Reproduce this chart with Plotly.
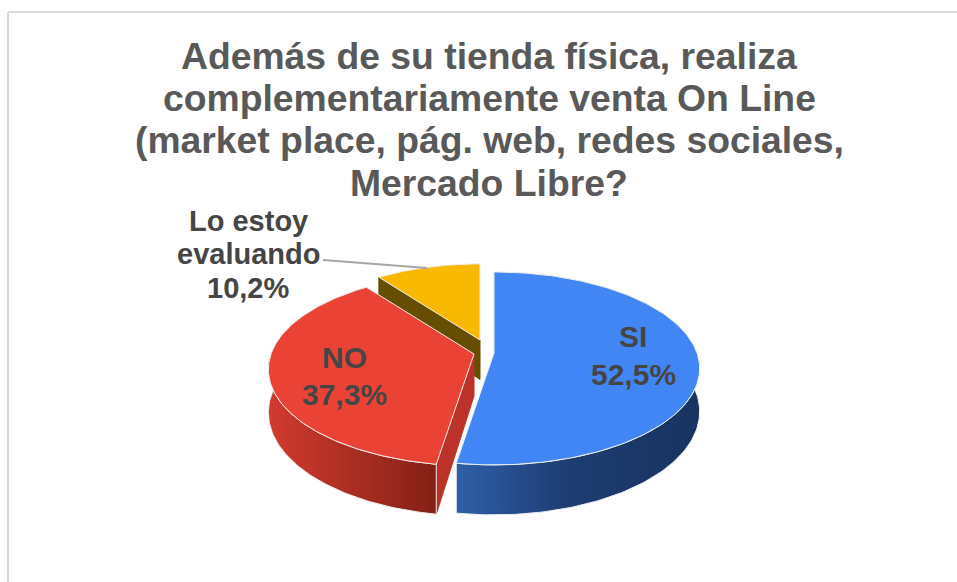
import numpy as np
import plotly.graph_objects as go

categories = ["SI", "NO", "Lo estoy<br>evaluando"]
shares = [52.5, 37.3, 10.2]
title_lines = ["Además de su tienda física, realiza",
               "complementariamente venta On Line",
               "(market place, pág. web, redes sociales,",
               "Mercado Libre?"]
title_y = [56, 98, 140, 183]

top_colors = ["#4285F4", "#EA4335", "#F8B900"]
side_scales = [[[0, "#2F5FA8"], [0.45, "#1D3D73"], [1, "#18335F"]],
               [[0, "#D23B2F"], [1, "#842015"]],
               [[0, "#664D00"], [1, "#664D00"]]]
cut_colors = ["#1D3D73", "#BD3228", "#664D00"]
edge = "#EFEFEF"
text_color = "#454545"

# Projection of the tilted pie onto the page
apex = [(494, 353), (474, 354), (480, 340)]
scale = [1.0, 1.0, 0.94]
RX, RY, PERSP, DEPTH = 203, 94, 0.16, 42


def project(i, theta, r=1.0, drop=0.0):
    u, v = r * np.sin(theta), r * np.cos(theta)
    w = 1 + PERSP * v
    s = scale[i]
    return (apex[i][0] + s * RX * u / w,
            apex[i][1] - s * RY * v / w + s * drop / w)


total = sum(shares)
ends = np.cumsum(shares) / total * 2 * np.pi
starts = np.concatenate([[0], ends[:-1]])


def poly(x, y, **kw):
    return go.Scatter(x=list(x), y=list(y), mode="lines", fill="toself",
                      hoverinfo="skip", showlegend=False, **kw)


def wedge_top(i):
    t = np.linspace(starts[i], ends[i], 160)
    x, y = project(i, t)
    return poly(np.r_[apex[i][0], x, apex[i][0]], np.r_[apex[i][1], y, apex[i][1]],
                fillcolor=top_colors[i], line=dict(color=edge, width=1))


def wedge_outer(i):
    t = np.linspace(starts[i], ends[i], 160)
    x0, y0 = project(i, t)
    x1, y1 = project(i, t, drop=DEPTH)
    return poly(np.r_[x0, x1[::-1], x0[0]], np.r_[y0, y1[::-1], y0[0]],
                fillgradient=dict(type="horizontal", colorscale=side_scales[i]),
                line=dict(color=edge, width=1))


def wedge_cut(i, theta):
    xa, ya = project(i, np.array([theta, theta]), r=np.array([0.0, 1.0]))
    xb, yb = project(i, np.array([theta, theta]), r=np.array([0.0, 1.0]), drop=DEPTH)
    return poly([xa[0], xa[1], xb[1], xb[0], xa[0]], [ya[0], ya[1], yb[1], yb[0], ya[0]],
                fillcolor=cut_colors[i], line=dict(color=cut_colors[i], width=1))


fig = go.Figure()
fig.add_trace(wedge_cut(2, starts[2]))
fig.add_trace(wedge_top(2))
fig.add_trace(wedge_cut(1, ends[0]))
fig.add_trace(wedge_outer(1))
fig.add_trace(wedge_top(1))
fig.add_trace(wedge_outer(0))
fig.add_trace(wedge_top(0))

# Leader line of the small slice
fig.add_trace(go.Scatter(x=[323, 427], y=[260, 268], mode="lines", hoverinfo="skip",
                         showlegend=False, line=dict(color="#A6A6A6", width=2)))


def text_line(txt, x, y, size, color):
    fig.add_annotation(x=x, y=y, xref="x", yref="y", showarrow=False,
                       text=f"<b>{txt}</b>", yanchor="middle", xanchor="center",
                       font=dict(family="Liberation Sans", size=size, color=color))


for line, y in zip(title_lines, title_y):
    text_line(line, 489, y, 37.3, "#595959")

label_x = [633, 344, 248]
label_ys = [[336, 374], [357, 394], [221, 254, 288]]
label_size = [30, 30, 29]
for cat, val, lx, ys, fs in zip(categories, shares, label_x, label_ys, label_size):
    lines = cat.split("<br>") + [f"{val:.1f}%".replace(".", ",")]
    for line, y in zip(lines, ys):
        text_line(line, lx, y, fs, text_color)

fig.update_layout(
    width=957, height=582, margin=dict(l=0, r=0, t=0, b=0),
    paper_bgcolor="white", plot_bgcolor="white",
    xaxis=dict(range=[0, 957], visible=False, fixedrange=True),
    yaxis=dict(range=[582, 0], visible=False, fixedrange=True),
    shapes=[dict(type="line", x0=8, x1=957, y0=12, y1=12, line=dict(color="#D9D9D9", width=2)),
            dict(type="line", x0=8, x1=8, y0=12, y1=582, line=dict(color="#D9D9D9", width=2))],
)
fig.write_html("out.html", config=dict(displayModeBar=False),
               post_script="document.body.style.margin='0';document.body.style.overflow='hidden';")
